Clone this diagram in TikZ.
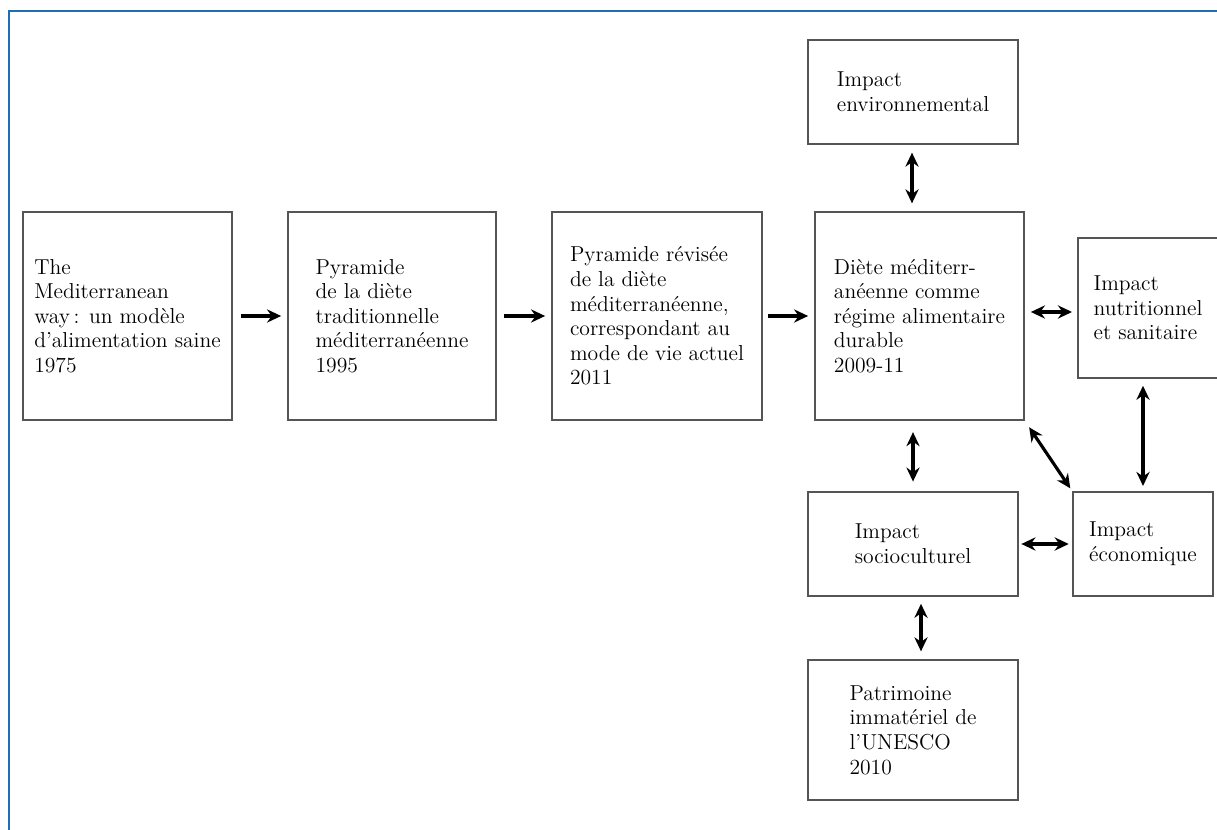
\documentclass[tikz,border=0pt]{standalone}
\usepackage{tikz}
\usetikzlibrary{arrows,arrows.meta,positioning,calc}
\definecolor{cadrebleu}{RGB}{30,110,180}
\definecolor{boitegris}{RGB}{85,85,85}

\begin{document}
\begin{tikzpicture}[x=0.02cm,y=-0.02cm,
			boite/.style={rectangle,draw=boitegris,line width=0.85pt,align=left,inner sep=0pt,font=\fontsize{12.3}{14}\selectfont},
			fl/.style={-{Stealth[length=8pt,width=7.5pt]},line width=1.8pt},
			dfl/.style={{Stealth[length=8pt,width=7.5pt]}-{Stealth[length=8pt,width=7.5pt]},line width=1.8pt}]
		\useasboundingbox (0,0) rectangle (1217,830);
		\clip (0,0) rectangle (1217,830);
		\draw [cadrebleu,line width=1.4pt] (9,11) rectangle (1240,850);
		\path 	(127.5,316) 	node 	(b1) [boite, minimum width=4.18cm, minimum height=4.16cm] {The\\Mediterranean\\way\,: un modèle\\d’alimentation saine\\1975}
		        (392,316) 	node 	(b2) [boite, minimum width=4.16cm, minimum height=4.16cm] {Pyramide\\de la diète\\traditionnelle\\méditerranéenne\\1995}
		        (657,316) 	node 	(b3) [boite, minimum width=4.2cm, minimum height=4.16cm] {Pyramide révisée\\de la diète\\méditerranéenne,\\correspondant au\\mode de vie actuel\\2011}
		        (919.5,316) 	node 	(b4) [boite, minimum width=4.18cm, minimum height=4.16cm] {Diète méditerr-\\anéenne comme\\régime alimentaire\\durable\\2009-11}
		        (913,92) 	node 	(env) [boite, minimum width=4.2cm, minimum height=2.08cm] {Impact\\environnemental}
		        (1148,308) 	node 	(nutri) [boite, minimum width=2.8cm, minimum height=2.8cm] {Impact\\nutritionnel\\et sanitaire}
		        (913,544) 	node 	(socio) [boite, minimum width=4.2cm, minimum height=2.08cm] {Impact\\socioculturel}
		        (1143,544) 	node 	(eco) [boite, minimum width=2.8cm, minimum height=2.08cm] {Impact\\économique}
		        (913,730) 	node 	(patr) [boite, minimum width=4.2cm, minimum height=2.8cm] {Patrimoine\\immatériel de\\l’UNESCO\\2010};
		% fleches de la frise
		\draw [fl, shorten <=4.5pt, shorten >=3.5pt] (b1) -- (b2);
		\draw [fl, shorten <=4pt, shorten >=3.5pt] (b2) -- (b3);
		\draw [fl, shorten <=3pt, shorten >=3.5pt] (b3) -- (b4);
		% impacts
		\draw [dfl, shorten <=4.5pt, shorten >=4.5pt] (env.south -| 912,0) -- (b4.north -| 912,0);
		\draw [dfl, shorten <=3.5pt, shorten >=3pt] (b4.east |- 0,312) -- (nutri.west |- 0,312);
		\draw [dfl, shorten <=4pt, shorten >=3pt] (nutri.south -| eco) -- (eco.north);
		\draw [dfl, shorten <=6.5pt, shorten >=5.5pt] (b4.south -| socio) -- (socio.north);
		\draw [dfl, shorten <=4.5pt, shorten >=2pt] (b4.south east) -- (eco.north west);
		\draw [dfl, shorten <=1.5pt, shorten >=2pt] (socio.east) -- (eco.west);
		\draw [dfl, shorten <=4pt, shorten >=4.5pt] (socio.south -| 921,0) -- (patr.north -| 921,0);
	\end{tikzpicture}
\end{document}
